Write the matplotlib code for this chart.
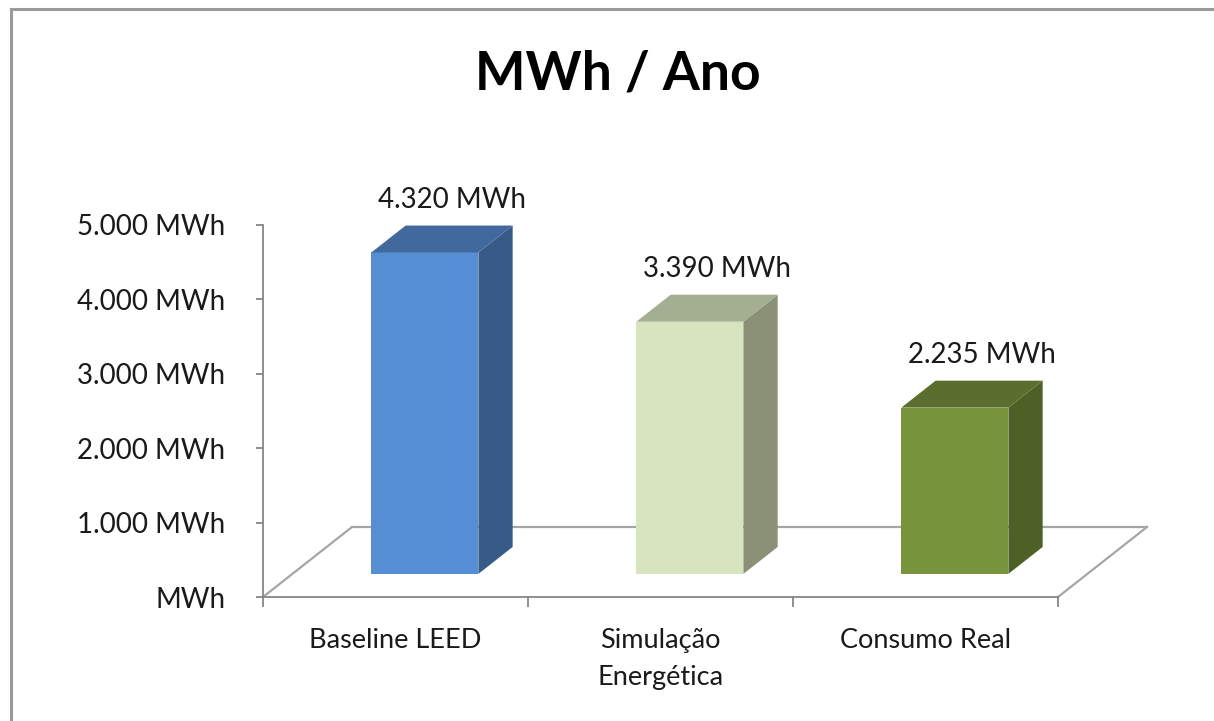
import numpy as np
import matplotlib.pyplot as plt
from matplotlib.patches import Polygon
from matplotlib.lines import Line2D

plt.rcParams['font.family'] = ['Lato', 'DejaVu Sans']

categories = ["Baseline LEED", "Simulação\nEnergética", "Consumo Real"]
values = [4320, 3390, 2235]
value_labels = ["4.320 MWh", "3.390 MWh", "2.235 MWh"]
y_ticks = [0, 1000, 2000, 3000, 4000, 5000]
y_tick_labels = ["MWh", "1.000 MWh", "2.000 MWh", "3.000 MWh", "4.000 MWh", "5.000 MWh"]

front_colors = ["#558ED5", "#D7E4BD", "#77933C"]
side_colors = ["#375A87", "#8A9176", "#4D6126"]
top_colors = ["#41699E", "#A4AE91", "#5C6E2D"]

W, H = 1214, 721
fig = plt.figure(figsize=(W / 100, H / 100), dpi=100)

# axes placed so that 0..3 categories / 0..5000 MWh sit on the pixel frame of the original
x0, x3, y0, y5 = 263, 1058, 597, 225
ax = fig.add_axes([x0 / W, 1 - y0 / H, (x3 - x0) / W, (y0 - y5) / H])
ax.set_xlim(0, 3)
ax.set_ylim(0, 5000)
ax.patch.set_visible(False)

# depth of the floor in data units
px_x = 3 / (x3 - x0)
px_y = 5000 / (y0 - y5)
DX, DY = 89 * px_x, 70 * px_y
f0, f1 = 0.33, 0.715
half_w = 0.202

def proj(x, v, z):
    return (x + z * DX, v + z * DY)

# floor outline
floor_col = "#a6a6a6"
for pts in [[proj(0, 0, 0), proj(0, 0, 1)],
            [proj(0, 0, 1), proj(3, 0, 1)],
            [proj(3, 0, 0), proj(3, 0, 1)]]:
    xs, ys = zip(*pts)
    ax.add_line(Line2D(xs, ys, color=floor_col, lw=1.6, clip_on=False, zorder=1))

centers = np.arange(len(values)) + 0.5
for i, (c, v) in enumerate(zip(centers, values)):
    ax.bar(c + f0 * DX, v, width=2 * half_w, bottom=f0 * DY, color=front_colors[i],
           linewidth=0, zorder=3, clip_on=False)
    side = [proj(c + half_w, 0, f0), proj(c + half_w, 0, f1),
            proj(c + half_w, v, f1), proj(c + half_w, v, f0)]
    top = [proj(c - half_w, v, f0), proj(c + half_w, v, f0),
           proj(c + half_w, v, f1), proj(c - half_w, v, f1)]
    ax.add_patch(Polygon(side, closed=True, facecolor=side_colors[i], lw=0, zorder=3, clip_on=False))
    ax.add_patch(Polygon(top, closed=True, facecolor=top_colors[i], lw=0, zorder=3, clip_on=False))
    lx, ly = proj(c, v, f1)
    ax.annotate(value_labels[i], (lx, ly), xytext=(-7, 13), textcoords="offset pixels",
                ha="center", va="bottom", fontsize=20, color="#1a1a1a", annotation_clip=False)

# axes styling
axis_col = "#868686"
for s in ["top", "right"]:
    ax.spines[s].set_visible(False)
ax.spines["left"].set_color(axis_col)
ax.spines["bottom"].set_color(axis_col)
ax.spines["left"].set_linewidth(1.3)
ax.spines["bottom"].set_linewidth(1.3)

ax.set_yticks(y_ticks)
ax.set_yticklabels(y_tick_labels)
ax.tick_params(axis="y", direction="out", length=5, width=1.3, color=axis_col,
               pad=22, labelsize=20, labelcolor="#1a1a1a")

ax.set_xticks([0, 1, 2, 3])
ax.set_xticklabels([])
ax.set_xticks(centers, minor=True)
ax.set_xticklabels(categories, minor=True, linespacing=1.6)
ax.tick_params(axis="x", which="major", direction="out", length=7, width=1.3, color=axis_col)
ax.tick_params(axis="x", which="minor", length=0, pad=22, labelsize=19.5, labelcolor="#1a1a1a")

fig.text(0.509, 1 - 90 / H, "MWh / Ano", ha="center", va="baseline",
         fontsize=38.5, fontweight="bold", color="black")

# chart frame (left and top edges visible)
fig.add_artist(Line2D([10.5 / W, 10.5 / W], [0, 1 - 8.5 / H], transform=fig.transFigure,
                      color="#9a9a9a", lw=2.2))
fig.add_artist(Line2D([10.5 / W, 1], [1 - 8.5 / H, 1 - 8.5 / H], transform=fig.transFigure,
                      color="#9a9a9a", lw=2.2))

fig.savefig("out.png", dpi=100)
